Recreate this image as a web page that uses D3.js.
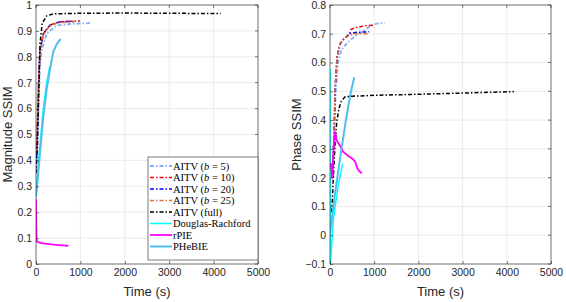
<!DOCTYPE html>
<html>
<head>
<meta charset="utf-8">
<script src="https://cdn.jsdelivr.net/npm/d3@7"></script>
<style>
  body { margin: 0; background: #fff; }
  text { font-family: "Liberation Sans", Arial, sans-serif; fill: #262626; }
  .legend text { font-family: "Liberation Serif", "Times New Roman", serif; fill: #000; }
</style>
</head>
<body>
<div id="chart"></div>
<script>
// ---- data (time in seconds, SSIM values) ----
let seriesNames = ['AITV (b = 5)', 'AITV (b = 10)', 'AITV (b = 20)', 'AITV (b = 25)',
                   'AITV (full)', 'Douglas-Rachford', 'rPIE', 'PHeBIE'];
let xTicks = [0, 1000, 2000, 3000, 4000, 5000];
let magTicks = [0, 0.1, 0.2, 0.3, 0.4, 0.5, 0.6, 0.7, 0.8, 0.9, 1];
let phaseTicks = [-0.1, 0, 0.1, 0.2, 0.3, 0.4, 0.5, 0.6, 0.7, 0.8];

// magnitude SSIM
let magB5T    = [10, 30, 60, 90, 128, 240, 466, 800, 1050, 1250];
let magB5V    = [0.36, 0.45, 0.62, 0.76, 0.826, 0.89, 0.921, 0.927, 0.929, 0.930];
let magB10T   = [10, 30, 60, 90, 165, 315, 500, 700, 990];
let magB10V   = [0.42, 0.52, 0.71, 0.826, 0.89, 0.923, 0.934, 0.937, 0.938];
let magB20T   = [10, 30, 60, 90, 165, 315, 500, 700, 900];
let magB20V   = [0.41, 0.51, 0.70, 0.822, 0.888, 0.922, 0.933, 0.936, 0.937];
let magB25T   = [10, 30, 60, 90, 165, 315, 500, 700, 850];
let magB25V   = [0.43, 0.53, 0.71, 0.82, 0.886, 0.92, 0.931, 0.934, 0.935];
let magFullT  = [0, 30, 60, 90, 140, 240, 390, 1000, 2000, 3000, 4160];
let magFullV  = [0.35, 0.45, 0.65, 0.85, 0.93, 0.958, 0.966, 0.968, 0.969, 0.968, 0.967];
let magDrT    = [0, 30, 90, 160, 240, 315];
let magDrV    = [0.28, 0.34, 0.46, 0.59, 0.70, 0.765];
let magRpieT  = [0, 5, 15, 30, 100, 200, 400, 600, 730];
let magRpieV  = [0.25, 0.15, 0.09, 0.085, 0.082, 0.079, 0.075, 0.072, 0.07];
let magPhebT  = [0, 30, 90, 160, 240, 315, 390, 470, 556];
let magPhebV  = [0.26, 0.31, 0.43, 0.56, 0.675, 0.752, 0.82, 0.85, 0.869];

// phase SSIM
let phB5T     = [60, 90, 130, 180, 260, 400, 550, 700, 900, 1050, 1240];
let phB5V     = [0.2, 0.33, 0.5, 0.6, 0.645, 0.67, 0.69, 0.705, 0.725, 0.735, 0.738];
let phB10T    = [60, 90, 120, 160, 230, 300, 420, 480, 600, 800, 990];
let phB10V    = [0.2, 0.35, 0.52, 0.62, 0.665, 0.68, 0.695, 0.716, 0.722, 0.728, 0.73];
let phB20T    = [60, 90, 120, 160, 230, 300, 380, 420, 600, 888];
let phB20V    = [0.2, 0.35, 0.52, 0.62, 0.665, 0.68, 0.69, 0.70, 0.705, 0.707];
let phB25T    = [60, 90, 120, 160, 230, 384, 533, 700, 888];
let phB25V    = [0.2, 0.36, 0.52, 0.62, 0.667, 0.69, 0.70, 0.70, 0.699];
let phFullT   = [40, 80, 120, 150, 195, 250, 340, 500, 1000, 2000, 3000, 4160];
let phFullV   = [0.08, 0.216, 0.33, 0.39, 0.435, 0.465, 0.481, 0.483, 0.486, 0.49, 0.494, 0.499];
let phDrT     = [0, 4, 8, 80, 190, 285];
let phDrV     = [0.58, 0.1, -0.1, 0.06, 0.178, 0.249];
let phRpieT   = [20, 50, 80, 110, 150, 230, 300, 384, 500, 570, 610, 650, 720];
let phRpieV   = [0.25, 0.2, 0.3, 0.36, 0.33, 0.31, 0.29, 0.279, 0.267, 0.256, 0.235, 0.225, 0.215];
let phPhebT   = [0, 100, 230, 350, 460, 549];
let phPhebV   = [0.0, 0.13, 0.27, 0.39, 0.49, 0.549];

// styles per series (same order as names)
let colors = ['#7fb0f5', '#ff0000', '#0000ff', '#e0703a', '#000000', '#00ffff', '#ff00ff', '#4dbeee'];
let dashes = ['4,2,1.5,2', '4,2,1.5,2', '4,2,1.5,2', '4,2,1.5,2', '4,2,1.5,2', null, null, null];
let widths = [1.8, 1.5, 1.5, 1.5, 1.5, 1.5, 1.8, 2];

function zip(t, v) { return t.map(function(d, i) { return [d, v[i]]; }); }

let magSeries = [zip(magB5T, magB5V), zip(magB10T, magB10V), zip(magB20T, magB20V), zip(magB25T, magB25V),
                 zip(magFullT, magFullV), zip(magDrT, magDrV), zip(magRpieT, magRpieV), zip(magPhebT, magPhebV)];
let phSeries = [zip(phB5T, phB5V), zip(phB10T, phB10V), zip(phB20T, phB20V), zip(phB25T, phB25V),
                zip(phFullT, phFullV), zip(phDrT, phDrV), zip(phRpieT, phRpieV), zip(phPhebT, phPhebV)];

let svg = d3.select('#chart').append('svg')
    .attr('width', 566)
    .attr('height', 302);

function drawPanel(opts) {
  let x = d3.scaleLinear().domain([0, 5000]).range([opts.left, opts.right]);
  let y = d3.scaleLinear().domain(opts.yDomain).range([opts.bottom, opts.top]);
  let g = svg.append('g');

  // grid
  g.selectAll('.gx').data(xTicks).enter().append('line')
    .attr('x1', d => x(d)).attr('x2', d => x(d))
    .attr('y1', opts.top).attr('y2', opts.bottom)
    .attr('stroke', '#e6e6e6').attr('stroke-width', 0.8);
  g.selectAll('.gy').data(opts.yTicks).enter().append('line')
    .attr('x1', opts.left).attr('x2', opts.right)
    .attr('y1', d => y(d)).attr('y2', d => y(d))
    .attr('stroke', '#e6e6e6').attr('stroke-width', 0.8);

  // lines
  let clipId = 'clip' + opts.id;
  svg.append('clipPath').attr('id', clipId).append('rect')
    .attr('x', opts.left).attr('y', opts.top)
    .attr('width', opts.right - opts.left).attr('height', opts.bottom - opts.top);
  let line = d3.line().x(d => x(d[0])).y(d => y(d[1]));
  g.append('g').attr('clip-path', 'url(#' + clipId + ')')
    .selectAll('path').data(opts.series).enter().append('path')
      .attr('d', line)
      .attr('fill', 'none')
      .attr('stroke', (d, i) => colors[i])
      .attr('stroke-width', (d, i) => widths[i])
      .attr('stroke-dasharray', (d, i) => dashes[i])
      .attr('stroke-linejoin', 'round');

  // axes
  let xAxis = d3.axisBottom(x).tickValues(xTicks).tickSize(-3).tickPadding(5).tickFormat(d3.format('d'));
  let yAxis = d3.axisLeft(y).tickValues(opts.yTicks).tickSize(-3).tickPadding(4).tickFormat(d => d3.format('')(+d.toFixed(1)));
  let xa = g.append('g').attr('transform', 'translate(0,' + opts.bottom + ')').call(xAxis);
  let ya = g.append('g').attr('transform', 'translate(' + opts.left + ',0)').call(yAxis);
  [xa, ya].forEach(function(a) {
    a.select('.domain').remove();
    a.selectAll('line').attr('stroke', '#262626').attr('stroke-width', 0.6);
    a.selectAll('text').style('font-size', '10.5px').attr('fill', '#262626');
  });
  // top/right ticks
  g.selectAll('.tt').data(xTicks).enter().append('line')
    .attr('x1', d => x(d)).attr('x2', d => x(d))
    .attr('y1', opts.top).attr('y2', opts.top + 3)
    .attr('stroke', '#262626').attr('stroke-width', 0.6);
  g.selectAll('.tr').data(opts.yTicks).enter().append('line')
    .attr('x1', opts.right).attr('x2', opts.right - 3)
    .attr('y1', d => y(d)).attr('y2', d => y(d))
    .attr('stroke', '#262626').attr('stroke-width', 0.6);

  // box
  g.append('rect')
    .attr('x', opts.left).attr('y', opts.top)
    .attr('width', opts.right - opts.left).attr('height', opts.bottom - opts.top)
    .attr('fill', 'none').attr('stroke', '#262626').attr('stroke-width', 0.6);

  // labels
  g.append('text')
    .attr('x', (opts.left + opts.right) / 2).attr('y', 296)
    .attr('text-anchor', 'middle').style('font-size', '13px')
    .text('Time (s)');
  g.append('text')
    .attr('transform', 'translate(' + opts.labelX + ',' + ((opts.top + opts.bottom) / 2) + ') rotate(-90)')
    .attr('text-anchor', 'middle').style('font-size', '13px')
    .text(opts.yLabel);
  return g;
}

drawPanel({ id: 'm', left: 36, right: 258, top: 5, bottom: 264, yDomain: [0, 1],
            yTicks: magTicks, series: magSeries, yLabel: 'Magnitude SSIM', labelX: 12 });
drawPanel({ id: 'p', left: 330, right: 551, top: 5, bottom: 264, yDomain: [-0.1, 0.8],
            yTicks: phaseTicks, series: phSeries, yLabel: 'Phase SSIM', labelX: 301 });

// legend
let legend = svg.append('g').attr('class', 'legend');
legend.append('rect')
  .attr('x', 148).attr('y', 157).attr('width', 110).attr('height', 103)
  .attr('fill', '#fff').attr('stroke', '#262626').attr('stroke-width', 0.6);
let rows = legend.selectAll('.row').data(seriesNames).enter().append('g')
  .attr('transform', (d, i) => 'translate(0,' + (166 + i * 11.5) + ')');
rows.append('line')
  .attr('x1', 150).attr('x2', 172).attr('y1', 0).attr('y2', 0)
  .attr('stroke', (d, i) => colors[i])
  .attr('stroke-width', (d, i) => widths[i])
  .attr('stroke-dasharray', (d, i) => dashes[i]);
rows.append('text')
  .attr('x', 173).attr('y', 3.5)
  .style('font-size', '10.5px')
  .each(function(d) {
    let t = d3.select(this);
    let m = d.match(/^AITV \(b = (\d+)\)$/);
    if (m) {
      t.append('tspan').text('AITV (');
      t.append('tspan').style('font-style', 'italic').text('b');
      t.append('tspan').text(' = ' + m[1] + ')');
    } else {
      t.text(d);
    }
  });
</script>
</body>
</html>
